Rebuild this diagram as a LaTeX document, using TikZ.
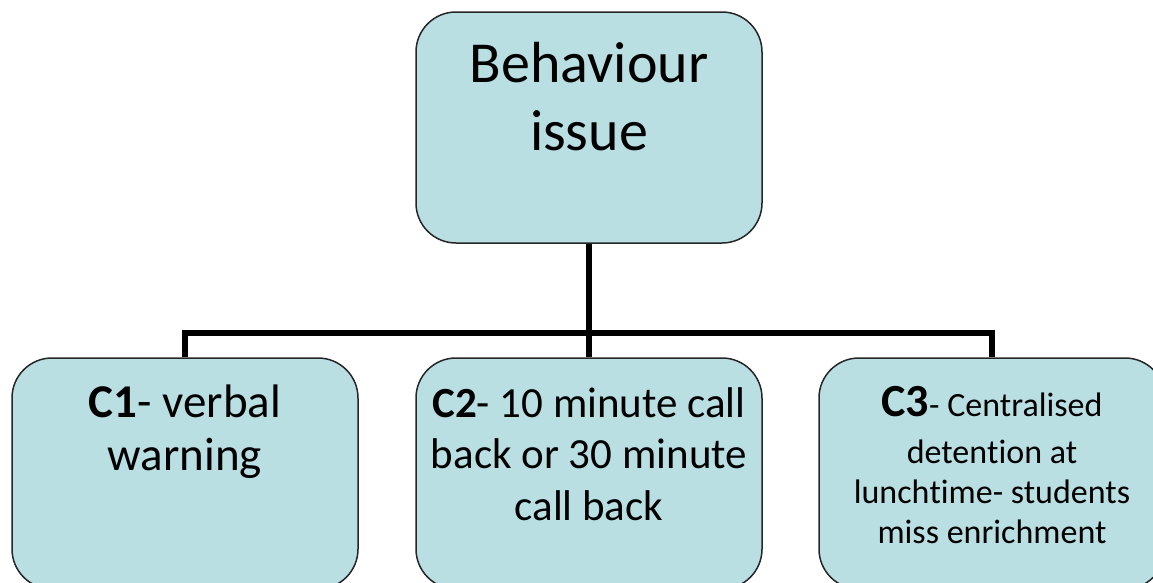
\documentclass[tikz,border=0pt]{standalone}
\usepackage{fontspec}
\setmainfont{Carlito}[Ligatures={NoCommon,NoContextual,NoRare}]
\usepackage{tikz}
\usetikzlibrary{positioning}

\definecolor{boxblue}{RGB}{185,223,227}

\begin{document}
\begin{tikzpicture}[x=1pt,y=-1pt,
  box/.style={draw=black!85,line width=1.5pt,fill=boxblue,rounded corners=40pt,
    minimum width=346pt,minimum height=231pt,inner sep=0pt},
  txt/.style={align=center,inner sep=0pt,anchor=base},
  conn/.style={line width=5.5pt}]
\clip (0,0) rectangle (1153,582);

% boxes
\node[box] (issue) at (589,127.5) {};
\node[box] (cone) at (185,473.5) {};
\node[box] (ctwo) at (589,473.5) {};
\node[box] (cthree) at (992,473.5) {};

% texts (anchored at the base of the last line)
\node[txt,font=\fontsize{58}{68}\selectfont] (issuetext) at (589,150) {Behaviour\\issue};
\node[txt,font=\fontsize{47}{53}\selectfont] (conetext) at (185,470) {\textbf{C1}- verbal\\warning};
\node[txt,font=\fontsize{43}{51.5}\selectfont] (ctwotext) at (589,520) {\textbf{C2}- 10 minute call\\back or 30 minute\\call back};
\node[txt,font=\fontsize{34}{40}\selectfont] (cthreetext) at (992,543)
  {{\fontsize{46}{47}\selectfont\textbf{C3}}- Centralised\\[7pt]deten\kern0pt t\kern0pt ion at\\lunch\kern0pt t\kern0pt ime- students\\miss enrichment};

% connectors
\coordinate (bar) at (589,333);
\draw[conn] (issue.south) -- (bar);
\draw[conn] (bar) -- (ctwo.north);
\draw[conn] (bar) -| (cone.north);
\draw[conn] (bar) -| (cthree.north);
\end{tikzpicture}
\end{document}
